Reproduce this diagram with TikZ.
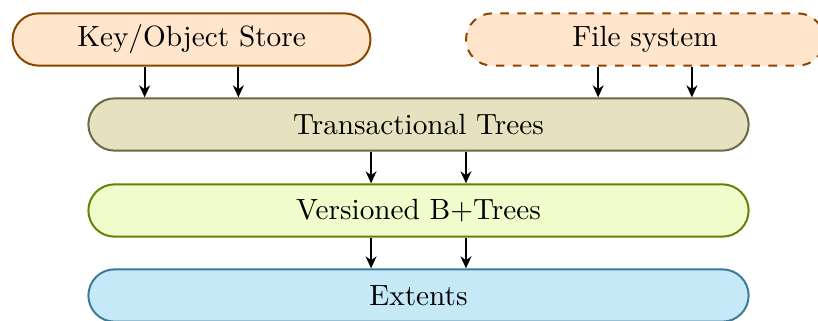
\documentclass[tikz,border=0pt]{standalone}
\usetikzlibrary{shapes.misc,arrows.meta}
\definecolor{storefill}{HTML}{FFE5CC}
\definecolor{storeline}{HTML}{8B4500}
\definecolor{txfill}{HTML}{E6E1BF}
\definecolor{txline}{HTML}{6B6845}
\definecolor{vbfill}{HTML}{F0FCCB}
\definecolor{vbline}{HTML}{628200}
\definecolor{extfill}{HTML}{C6E9F8}
\definecolor{extline}{HTML}{3C7A99}
\tikzset{
  layer/.style={rounded rectangle, draw, line width=0.7pt, inner sep=0pt,
    minimum height=18.4pt, font=\fontsize{10.3pt}{12pt}\selectfont},
  wide/.style={layer, minimum width=232.4pt},
  narrow/.style={layer, minimum width=126pt},
  arr/.style={-{Stealth[length=4.2pt,width=3.8pt,inset=1.3pt]}, line width=0.75pt},
}
\begin{document}
\begin{tikzpicture}[x=0.352pt,y=-0.352pt]
\useasboundingbox (0,0) rectangle (818,320);
% upper interfaces
\node[narrow, fill=storefill, draw=storeline] (kos) at (191.5,39.5) {Key/Object Store};
\node[narrow, fill=storefill, draw=storeline, dashed] (fs) at (645,39.5) {File system};
% layered core
\node[wide, fill=txfill, draw=txline] (tt) at (418.5,124.5) {Transactional Trees};
\node[wide, fill=vbfill, draw=vbline] (vb) at (418.5,210.5) {Versioned B+Trees};
\node[wide, fill=extfill, draw=extline] (ext) at (418.5,295.5) {Extents};
% connectors
\foreach \s in {-16.5pt,16.5pt}{
  \draw[arr] ([xshift=\s]kos.south) -- ([xshift=\s]kos.south |- tt.north);
  \draw[arr] ([xshift=\s]fs.south) -- ([xshift=\s]fs.south |- tt.north);
}
\foreach \s in {-16.7pt,16.7pt}{
  \draw[arr] ([xshift=\s]tt.south) -- ([xshift=\s]tt.south |- vb.north);
  \draw[arr] ([xshift=\s]vb.south) -- ([xshift=\s]vb.south |- ext.north);
}
\end{tikzpicture}
\end{document}
